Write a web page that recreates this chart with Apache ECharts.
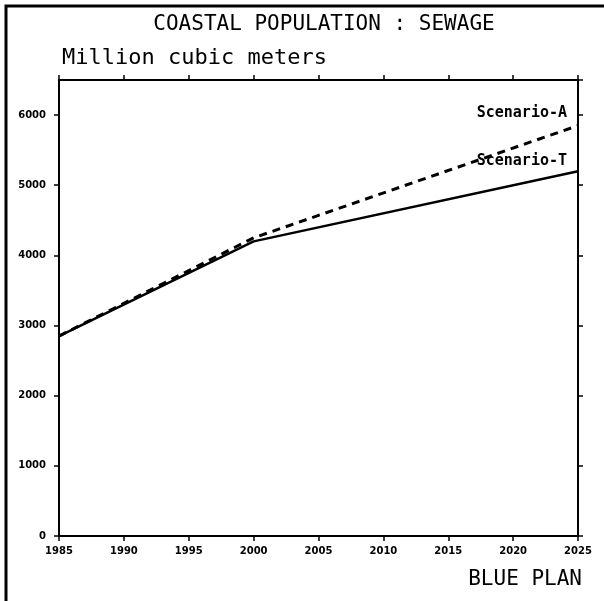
<!DOCTYPE html>
<html>
<head>
<meta charset="utf-8">
<script src="https://cdn.jsdelivr.net/npm/echarts@6/dist/echarts.min.js"></script>
<style>
html,body{margin:0;padding:0;background:#fff;}
#chart{width:604px;height:601px;}
</style>
</head>
<body>
<div id="chart"></div>
<script>
// ---- data ----
var years = [1985, 2000, 2025];
var scenarioA = [2850, 4250, 5850];
var scenarioT = [2850, 4200, 5200];
var seriesNames = ['Scenario-A', 'Scenario-T'];
var titleText = 'COASTAL POPULATION : SEWAGE';
var unitText = 'Million cubic meters';
var sourceText = 'BLUE PLAN';

function pairs(xs, ys) {
  return xs.map(function (x, i) { return [x, ys[i]]; });
}
function endMark(xs, ys, text, offset) {
  var n = xs.length - 1;
  return {
    symbol: 'circle', symbolSize: 0, silent: true,
    data: [{ coord: [xs[n], ys[n]] }],
    label: {
      show: true, formatter: text, position: 'left', distance: 5, offset: offset,
      fontFamily: 'DejaVu Sans Mono', fontWeight: 'bold', fontSize: 15, color: '#000'
    }
  };
}

var chart = echarts.init(document.getElementById('chart'), null, { renderer: 'canvas' });
var tickFont = { fontFamily: 'DejaVu Sans', fontWeight: 'bold', fontSize: 10, color: '#000' };
var axisLineStyle = { color: '#000', width: 2 };
var tickStyle = { show: true, inside: false, length: 5, lineStyle: { color: '#000', width: 1.5 } };

chart.setOption({
  animation: false,
  backgroundColor: '#fff',
  grid: { left: 59, top: 80, width: 519, height: 456 },
  graphic: [
    { type: 'polyline', shape: { points: [[6, 601], [6, 6], [604, 6]] }, style: { stroke: '#000', lineWidth: 3, fill: null } },
    { type: 'text', x: 324, y: 25, style: { text: titleText, font: '21px "DejaVu Sans Mono"', fill: '#000', textAlign: 'center', textVerticalAlign: 'middle' } },
    { type: 'text', x: 62, y: 58, style: { text: unitText, font: '22px "DejaVu Sans Mono"', fill: '#000', textAlign: 'left', textVerticalAlign: 'middle' } },
    { type: 'text', x: 582, y: 580, style: { text: sourceText, font: '21px "DejaVu Sans Mono"', fill: '#000', textAlign: 'right', textVerticalAlign: 'middle' } }
  ],
  xAxis: [
    {
      type: 'value', position: 'bottom', min: 1985, max: 2025, interval: 5,
      axisLine: { show: true, onZero: false, lineStyle: axisLineStyle },
      axisTick: tickStyle,
      axisLabel: Object.assign({ margin: 10, formatter: function (v) { return String(v); } }, tickFont),
      splitLine: { show: false }
    },
    {
      type: 'value', position: 'top', min: 1985, max: 2025, interval: 5,
      axisLine: { show: true, onZero: false, lineStyle: axisLineStyle },
      axisTick: tickStyle,
      axisLabel: { show: false },
      splitLine: { show: false }
    }
  ],
  yAxis: [
    {
      type: 'value', position: 'left', min: 0, max: 6500, interval: 1000,
      axisLine: { show: true, onZero: false, lineStyle: axisLineStyle },
      axisTick: tickStyle,
      axisLabel: Object.assign({ margin: 13, showMaxLabel: false, formatter: function (v) { return String(v); } }, tickFont),
      splitLine: { show: false }
    },
    {
      type: 'value', position: 'right', min: 0, max: 6500, interval: 1000,
      axisLine: { show: true, onZero: false, lineStyle: axisLineStyle },
      axisTick: tickStyle,
      axisLabel: { show: false },
      splitLine: { show: false }
    }
  ],
  series: [
    {
      name: seriesNames[0], type: 'line', xAxisIndex: 0, yAxisIndex: 0,
      data: pairs(years, scenarioA),
      symbol: 'none', showSymbol: false,
      lineStyle: { color: '#000', width: 3, type: [8, 6] },
      markPoint: endMark(years, scenarioA, seriesNames[0], [-6, -12])
    },
    {
      name: seriesNames[1], type: 'line', xAxisIndex: 0, yAxisIndex: 0,
      data: pairs(years, scenarioT),
      symbol: 'none', showSymbol: false,
      lineStyle: { color: '#000', width: 2.5, type: 'solid' },
      markPoint: endMark(years, scenarioT, seriesNames[1], [-6, -10])
    }
  ]
});
</script>
</body>
</html>
